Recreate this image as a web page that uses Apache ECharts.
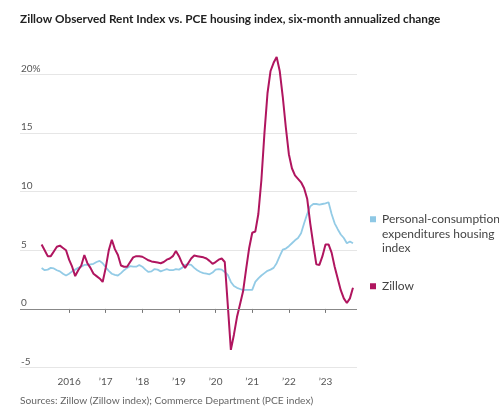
<!DOCTYPE html>
<html>
<head>
<meta charset="utf-8">
<script src="https://cdn.jsdelivr.net/npm/echarts@6/dist/echarts.min.js"></script>
<style>
html,body{margin:0;padding:0;background:#fff;}
#chart{width:499px;height:414px;}
</style>
</head>
<body>
<div id="chart"></div>
<script>
// Monthly data, April 2015 through October 2023
var startYear = 2015, startMonth = 4;
var zillow = [
  5.5, 5.0, 4.5, 4.5, 4.9, 5.3, 5.4, 5.2, 5.0,            // Apr-Dec 2015
  4.2, 3.6, 2.8, 3.3, 3.7, 4.6, 3.9, 3.5, 3.0, 2.8, 2.6, 2.3, // 2016
  3.5, 5.0, 5.9, 5.1, 4.6, 3.7, 3.6, 3.6, 4.0, 4.4, 4.5, 4.5, // 2017
  4.45, 4.3, 4.15, 4.05, 4.0, 3.95, 3.9, 4.0, 4.2, 4.3, 4.5, 4.95, // 2018
  4.5, 3.9, 3.5, 3.9, 4.3, 4.55, 4.5, 4.45, 4.4, 4.3, 4.1, 3.85, // 2019
  4.0, 4.2, 4.3, 4.0, 0.3, -3.5, -2.2, -0.7, 0.4, 1.5, 3.4, 5.2, // 2020
  6.5, 6.6, 8.1, 11.0, 15.0, 18.4, 20.3, 21.0, 21.5, 20.3, 18.1, 15.5, // 2021
  13.2, 12.0, 11.4, 11.1, 10.8, 10.3, 9.4, 7.3, 5.5, 3.8, 3.75, 4.5, // 2022
  5.5, 5.5, 4.8, 3.6, 2.6, 1.6, 0.9, 0.5, 0.9, 1.8            // Jan-Oct 2023
];
var pce = [
  3.48, 3.3, 3.35, 3.5, 3.45, 3.3, 3.2, 3.0, 2.85,        // Apr-Dec 2015
  3.0, 3.2, 3.35, 3.5, 3.6, 3.75, 3.75, 3.8, 3.85, 4.0, 4.1, 3.9, // 2016
  3.55, 3.25, 3.0, 2.9, 2.85, 3.05, 3.3, 3.5, 3.65, 3.6, 3.6, 3.75, // 2017
  3.6, 3.35, 3.15, 3.2, 3.4, 3.35, 3.2, 3.3, 3.4, 3.3, 3.3, 3.4, // 2018
  3.35, 3.5, 3.75, 3.8, 3.75, 3.5, 3.3, 3.15, 3.05, 3.0, 2.95, 3.1, // 2019
  3.35, 3.4, 3.35, 3.15, 2.9, 2.3, 1.95, 1.8, 1.7, 1.6, 1.62, 1.62, // 2020
  1.62, 2.3, 2.6, 2.85, 3.05, 3.25, 3.35, 3.5, 3.9, 4.5, 5.05, 5.15, // 2021
  5.35, 5.6, 5.85, 6.05, 6.45, 7.3, 8.1, 8.75, 8.95, 8.95, 8.9, 8.95, // 2022
  9.0, 9.1, 8.1, 7.3, 6.8, 6.35, 6.05, 5.6, 5.75, 5.6        // Jan-Oct 2023
];
var yearTicks = [2016, 2017, 2018, 2019, 2020, 2021, 2022, 2023];
var pceName = 'Personal-consumption expenditures housing index';
var zillowName = 'Zillow';

function monthX(i) { return startYear + (startMonth - 1 + i) / 12; }
function pairs(arr) { return arr.map(function (v, i) { return [monthX(i), v]; }); }

var FONT = 'Lato, "Noto Sans", sans-serif';
var chart = echarts.init(document.getElementById('chart'), null, {renderer: 'canvas'});
chart.setOption({
  animation: false,
  backgroundColor: '#ffffff',
  textStyle: {fontFamily: FONT},
  title: [{
    text: 'Zillow Observed Rent Index vs. PCE housing index, six-month annualized change',
    left: 20, top: 13, padding: 0,
    textStyle: {fontFamily: FONT, fontSize: 11.8, fontWeight: 'bold', color: '#222'}
  }, {
    text: 'Sources: Zillow (Zillow index); Commerce Department (PCE index)',
    left: 20, top: 396, padding: 0,
    textStyle: {fontFamily: FONT, fontSize: 10.2, fontWeight: 'normal', color: '#666'}
  }],
  grid: {left: 20, right: 142, top: 74.5, bottom: 46.5, containLabel: false},
  xAxis: {
    type: 'value', min: 2014.66, max: 2023.86,
    axisLine: {show: false},
    splitLine: {show: false},
    axisTick: {show: true, customValues: yearTicks, length: 4, lineStyle: {color: '#777'}},
    axisLabel: {
      customValues: yearTicks, margin: 9, fontSize: 10, color: '#555', fontFamily: FONT,
      formatter: function (v) { return v === 2016 ? '2016' : '\u2019' + String(v).slice(2); }
    }
  },
  yAxis: {
    type: 'value', min: -5, max: 20, interval: 5,
    axisLine: {show: false}, axisTick: {show: false},
    splitLine: {show: true, lineStyle: {color: '#e6e6e6', width: 1}},
    axisLabel: {
      inside: true, margin: 1, verticalAlign: 'bottom', align: 'left', padding: [0, 0, 1, 0],
      fontSize: 10, color: '#555', fontFamily: FONT,
      formatter: function (v) { return v === 20 ? '20%' : String(v); }
    }
  },
  legend: [{
    data: [pceName], left: 370, top: 183, padding: 0,
    orient: 'vertical', icon: 'rect', itemWidth: 6, itemHeight: 6,
    formatter: function () { return '\n\nPersonal-consumption\nexpenditures housing\nindex'; },
    textStyle: {fontFamily: FONT, fontSize: 12, lineHeight: 14.5, color: '#444', padding: [0, 0, 0, 1]}
  }, {
    data: [zillowName], left: 370, top: 279, padding: 0,
    orient: 'vertical', icon: 'rect', itemWidth: 6, itemHeight: 6,
    textStyle: {fontFamily: FONT, fontSize: 12, lineHeight: 14.5, color: '#444', padding: [0, 0, 0, 1]}
  }],
  series: [{
    name: pceName, type: 'line', data: pairs(pce), showSymbol: false, clip: false,
    lineStyle: {color: '#93cbe6', width: 1.8}, itemStyle: {color: '#8ec8e5'},
    markLine: {
      silent: true, symbol: 'none', label: {show: false},
      lineStyle: {color: '#888', width: 1.2, type: 'solid'},
      data: [{yAxis: 0}]
    }
  }, {
    name: zillowName, type: 'line', data: pairs(zillow), showSymbol: false, clip: false,
    lineStyle: {color: '#b0155f', width: 2}, itemStyle: {color: '#b0155f'}
  }]
});
</script>
</body>
</html>
